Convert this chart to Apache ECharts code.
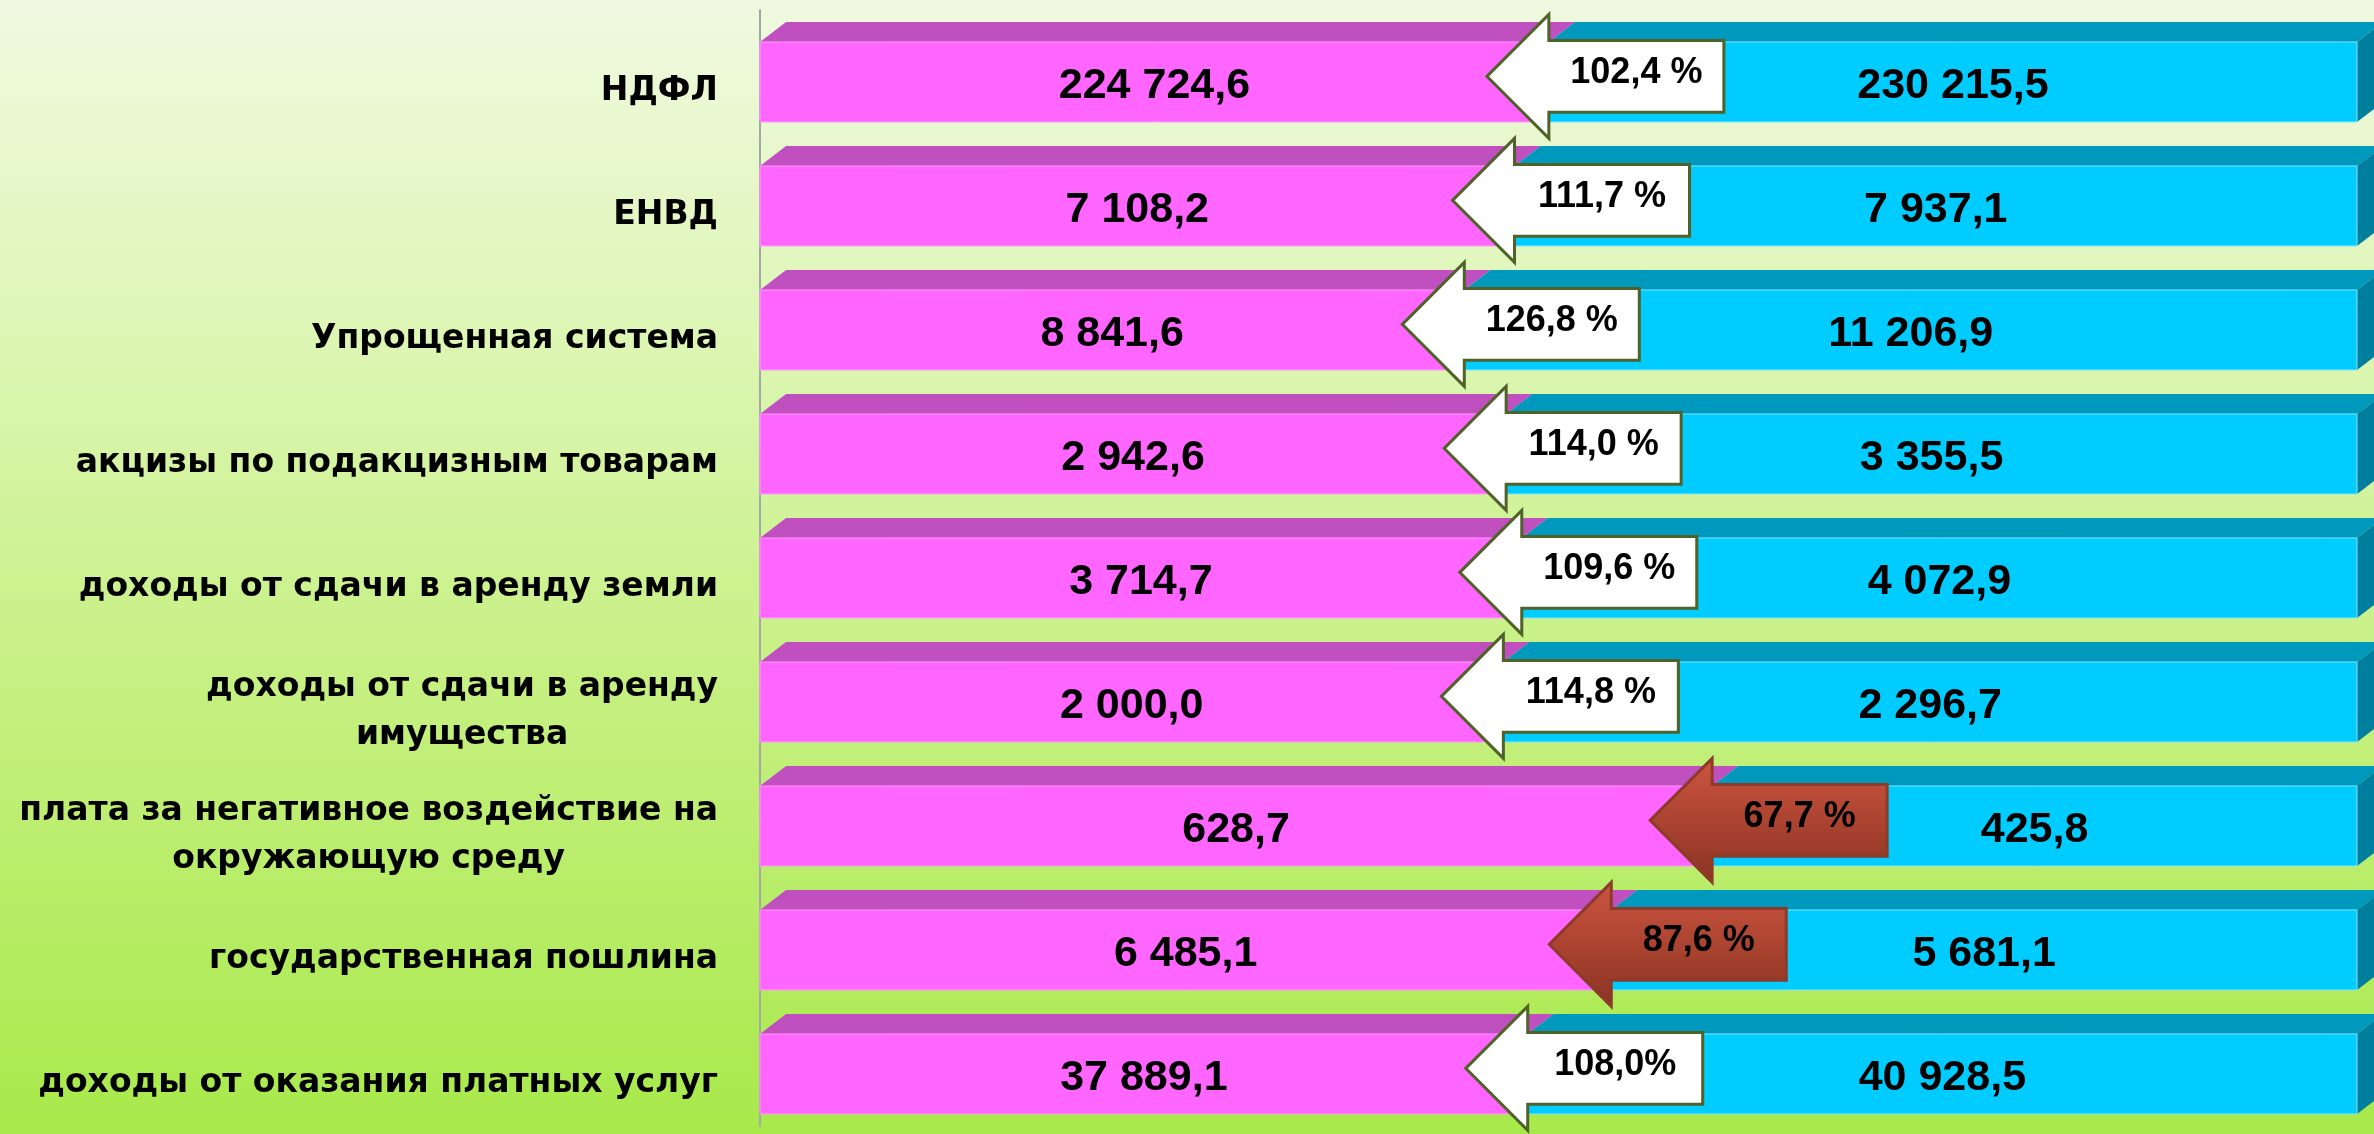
<!DOCTYPE html>
<html>
<head>
<meta charset="utf-8">
<script src="https://cdn.jsdelivr.net/npm/echarts@6.0.0/dist/echarts.min.js"></script>
<style>
  html, body { margin: 0; padding: 0; }
  #chart { width: 2374px; height: 1134px; }
</style>
</head>
<body>
<div id="chart"></div>
<script>
// данные
const categories = [
  'НДФЛ',
  'ЕНВД',
  'Упрощенная система',
  'акцизы по подакцизным товарам',
  'доходы от сдачи в аренду земли',
  'доходы от сдачи в аренду\nимущества',
  'плата за негативное воздействие на\nокружающую среду',
  'государственная пошлина',
  'доходы от оказания платных услуг'
]
const valuesPrev = [224724.6, 7108.2, 8841.6, 2942.6, 3714.7, 2000.0, 628.7, 6485.1, 37889.1]
const valuesCur = [230215.5, 7937.1, 11206.9, 3355.5, 4072.9, 2296.7, 425.8, 5681.1, 40928.5]
const growthLabels = ['102,4 %', '111,7 %', '126,8 %', '114,0 %', '109,6 %', '114,8 %', '67,7 %', '87,6 %', '108,0%']

// 224724.6 -> "224 724,6"
const formatNum = (v) => {
  const parts = v.toFixed(1).split('.')
  return parts[0].replace(/\B(?=(\d{3})+(?!\d))/g, ' ') + ',' + parts[1]
}

// доля прошлого года в 100% полосе
const seriesData = categories.map((c, i) => [
  valuesPrev[i] / (valuesPrev[i] + valuesCur[i]) * 100,
  i
])

const valueFont = 'bold 43px "Liberation Sans", Arial, sans-serif'
const arrowFont = 'bold 36px "Liberation Sans", Arial, sans-serif'

// 3D полоса: верхняя грань, боковая грань, передняя грань
const renderBar = (params, api) => {
  const i = api.value(1)
  const share = api.value(0)
  const band = api.size([0, 1])[1]
  const p0 = api.coord([0, i])
  const ps = api.coord([share, i])
  const p1 = api.coord([100, i])
  const cy = p0[1]
  const ft = cy - band * 0.242
  const fb = cy + band * 0.403
  const dy = band * 0.161
  const dx = band * 0.21
  const x0 = p0[0], xs = ps[0], x1 = p1[0]
  return {
    type: 'group',
    children: [
      { type: 'polygon', shape: { points: [[x0, ft], [xs, ft], [xs + dx, ft - dy], [x0 + dx, ft - dy]] }, style: { fill: '#C050C0' } },
      { type: 'polygon', shape: { points: [[xs, ft], [x1, ft], [x1 + dx, ft - dy], [xs + dx, ft - dy]] }, style: { fill: '#0099BE' } },
      { type: 'polygon', shape: { points: [[x1, ft], [x1 + dx, ft - dy], [x1 + dx, fb - dy], [x1, fb]] }, style: { fill: '#007E9E' } },
      { type: 'rect', shape: { x: x0, y: ft, width: xs - x0, height: fb - ft }, style: { fill: '#FF66FF', stroke: '#FF99FF', lineWidth: 1 } },
      { type: 'rect', shape: { x: xs, y: ft, width: x1 - xs, height: fb - ft }, style: { fill: '#00CCFF', stroke: '#7FE6FF', lineWidth: 1 } },
      { type: 'text', style: { text: formatNum(valuesPrev[i]), x: (x0 + xs) / 2, y: (ft + fb) / 2 + 4, align: 'center', verticalAlign: 'middle', font: valueFont, fill: '#000' } },
      { type: 'text', style: { text: formatNum(valuesCur[i]), x: (xs + x1) / 2, y: (ft + fb) / 2 + 4, align: 'center', verticalAlign: 'middle', font: valueFont, fill: '#000' } }
    ]
  }
}

// стрелка с темпом роста
const renderArrow = (params, api) => {
  const i = api.value(1)
  const share = api.value(0)
  const band = api.size([0, 1])[1]
  const ps = api.coord([share, i])
  const xs = ps[0]
  const ay = ps[1] + band * 0.035
  const head = band * 0.5
  const bodyH = band * 0.29
  const tip = xs - band * 0.5
  const xr = xs + 175
  const down = valuesCur[i] < valuesPrev[i]
  const fill = down
    ? new echarts.graphic.LinearGradient(0, 0, 0, 1, [
        { offset: 0, color: '#CD5540' },
        { offset: 1, color: '#8A3322' }
      ])
    : '#FFFFFF'
  return {
    type: 'group',
    children: [
      {
        type: 'polygon',
        shape: {
          points: [
            [tip, ay], [xs, ay - head], [xs, ay - bodyH], [xr, ay - bodyH],
            [xr, ay + bodyH], [xs, ay + bodyH], [xs, ay + head]
          ]
        },
        style: { fill: fill, stroke: down ? '#8C3A2A' : '#4F6228', lineWidth: 3 }
      },
      { type: 'text', style: { text: growthLabels[i], x: (xs + xr) / 2, y: ay - 3, align: 'center', verticalAlign: 'middle', font: arrowFont, fill: '#000' } }
    ]
  }
}

const chart = echarts.init(document.getElementById('chart'))
chart.setOption({
  animation: false,
  backgroundColor: {
    type: 'linear', x: 0, y: 0, x2: 0, y2: 1,
    colorStops: [
      { offset: 0, color: '#F0F9E0' },
      { offset: 0.3, color: '#DDF6B4' },
      { offset: 0.6, color: '#C6F082' },
      { offset: 1, color: '#A8E94A' }
    ]
  },
  grid: { left: 760, right: 17, top: 10, bottom: 8 },
  xAxis: { type: 'value', min: 0, max: 100, show: false },
  yAxis: {
    type: 'category',
    inverse: true,
    data: categories,
    offset: 9,
    axisLine: { show: true, lineStyle: { color: '#A6A6A6', width: 2 } },
    axisTick: { show: false },
    splitLine: { show: false },
    axisLabel: {
      margin: 33,
      padding: [38, 0, 0, 0],
      formatter: (v) => v.split('\n').map(l => '{c|' + l + '}').join('\n'),
      rich: {
        c: {
          align: 'center',
          fontSize: 33,
          fontWeight: 'bold',
          fontFamily: '"DejaVu Sans", sans-serif',
          color: '#000',
          lineHeight: 48
        }
      }
    }
  },
  series: [
    { type: 'custom', renderItem: renderBar, data: seriesData, encode: { x: 0, y: 1 }, z: 2 },
    { type: 'custom', renderItem: renderArrow, data: seriesData, encode: { x: 0, y: 1 }, z: 5 }
  ]
})
</script>
</body>
</html>
